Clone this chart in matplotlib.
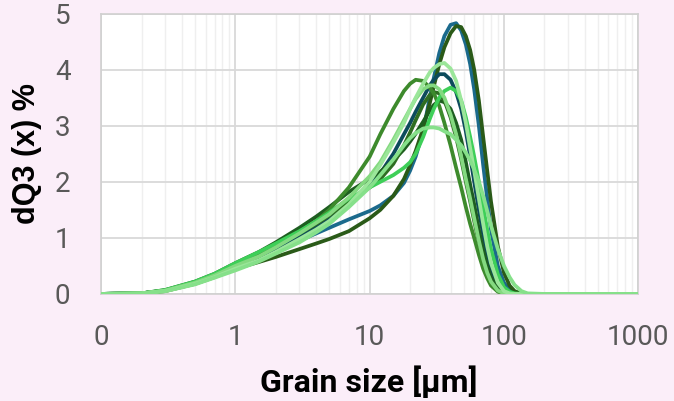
import matplotlib
matplotlib.use("Agg")
import matplotlib.pyplot as plt
from matplotlib.ticker import FixedLocator, FixedFormatter, LogLocator, NullFormatter

# grain size classes [um]
size_um = [0.1, 0.2, 0.3, 0.5, 0.7, 1, 1.5, 2, 3, 4, 5, 7, 10, 12, 15, 18, 20, 22, 25, 28,
           30, 33, 36, 40, 44, 48, 52, 56, 60, 65, 70, 75, 80, 90, 100, 110, 120, 135, 150, 200, 1000]

# dQ3(x) % per sample
teal = [0, 0.01, 0.06, 0.2, 0.32, 0.48, 0.63, 0.77, 0.95, 1.08, 1.18, 1.33, 1.48, 1.58, 1.75, 1.98, 2.2, 2.45, 2.9, 3.5,
        3.85, 4.3, 4.6, 4.8, 4.83, 4.7, 4.45, 4.1, 3.65, 3.0, 2.3, 1.7, 1.15, 0.5, 0.2, 0.07, 0.02, 0, 0, 0, 0]
olive = [0, 0.01, 0.05, 0.18, 0.3, 0.45, 0.57, 0.66, 0.8, 0.9, 0.98, 1.12, 1.35, 1.5, 1.75, 2.05, 2.3, 2.55, 2.95, 3.4,
         3.7, 4.1, 4.4, 4.65, 4.78, 4.76, 4.6, 4.35, 4.0, 3.45, 2.8, 2.2, 1.65, 0.85, 0.38, 0.15, 0.05, 0.01, 0, 0, 0]
navy = [0, 0.01, 0.06, 0.2, 0.33, 0.5, 0.65, 0.8, 1.02, 1.2, 1.35, 1.62, 1.95, 2.15, 2.5, 2.85, 3.05, 3.25, 3.5, 3.72,
        3.82, 3.92, 3.92, 3.82, 3.6, 3.3, 2.9, 2.45, 2.0, 1.5, 1.05, 0.7, 0.45, 0.15, 0.04, 0.01, 0, 0, 0, 0, 0]
dark_green = [0, 0.01, 0.07, 0.22, 0.36, 0.55, 0.75, 0.92, 1.18, 1.38, 1.55, 1.82, 2.05, 2.18, 2.38, 2.58, 2.72, 2.86, 3.07, 3.27,
              3.37, 3.45, 3.42, 3.3, 3.05, 2.75, 2.35, 1.95, 1.6, 1.15, 0.78, 0.5, 0.3, 0.1, 0.03, 0, 0, 0, 0, 0, 0]
forest = [0, 0.01, 0.06, 0.2, 0.33, 0.5, 0.68, 0.85, 1.08, 1.25, 1.4, 1.65, 1.9, 2.05, 2.32, 2.65, 2.88, 3.1, 3.38, 3.55,
          3.6, 3.58, 3.45, 3.15, 2.8, 2.4, 2.0, 1.65, 1.3, 0.92, 0.6, 0.37, 0.2, 0.06, 0.01, 0, 0, 0, 0, 0, 0]
mid_green = [0, 0.01, 0.06, 0.2, 0.33, 0.5, 0.68, 0.85, 1.1, 1.3, 1.5, 1.9, 2.45, 2.85, 3.3, 3.62, 3.75, 3.82, 3.8, 3.68,
             3.58, 3.35, 3.05, 2.65, 2.25, 1.9, 1.55, 1.25, 1.0, 0.7, 0.45, 0.28, 0.15, 0.04, 0.01, 0, 0, 0, 0, 0, 0]
bright = [0, 0.01, 0.07, 0.22, 0.36, 0.55, 0.75, 0.9, 1.12, 1.3, 1.45, 1.7, 1.9, 2.0, 2.12, 2.25, 2.35, 2.5, 2.8, 3.12,
          3.3, 3.5, 3.62, 3.68, 3.62, 3.45, 3.15, 2.8, 2.45, 2.0, 1.55, 1.15, 0.8, 0.35, 0.12, 0.04, 0.01, 0, 0, 0, 0]
pale = [0, 0.01, 0.06, 0.2, 0.33, 0.5, 0.67, 0.83, 1.08, 1.27, 1.42, 1.72, 2.1, 2.35, 2.75, 3.1, 3.3, 3.48, 3.65, 3.72,
        3.72, 3.65, 3.5, 3.2, 2.85, 2.45, 2.05, 1.7, 1.35, 0.95, 0.62, 0.38, 0.22, 0.06, 0.01, 0, 0, 0, 0, 0, 0]
light = [0, 0.01, 0.05, 0.18, 0.3, 0.45, 0.6, 0.75, 0.98, 1.15, 1.3, 1.6, 2.0, 2.3, 2.7, 3.05, 3.3, 3.5, 3.75, 3.95,
         4.03, 4.1, 4.12, 4.02, 3.8, 3.45, 3.05, 2.6, 2.2, 1.7, 1.25, 0.85, 0.55, 0.2, 0.05, 0.01, 0, 0, 0, 0, 0]
plateau = [0, 0.01, 0.05, 0.17, 0.29, 0.42, 0.58, 0.72, 0.92, 1.1, 1.25, 1.55, 1.9, 2.12, 2.4, 2.65, 2.78, 2.87, 2.95, 2.97,
           2.97, 2.95, 2.9, 2.85, 2.75, 2.65, 2.52, 2.38, 2.22, 2.0, 1.75, 1.48, 1.22, 0.8, 0.5, 0.3, 0.16, 0.05, 0.01, 0, 0]

series = [teal, olive, navy, dark_green, forest, mid_green, bright, pale, light, plateau]
colors = ["#1b6a8c", "#2a5a18", "#0d4b5c", "#1d5e20", "#2e6d22", "#3d8a2c",
          "#3ecf58", "#84d980", "#9be69a", "#86e08a"]

tick_vals = [0.1, 1, 10, 100, 1000]
tick_text = ["0", "1", "10", "100", "1000"]

bg = "#fbeef9"
fig = plt.figure(figsize=(6.74, 4.01), dpi=100, facecolor=bg)
ax = fig.add_axes([0.150, 0.267, 0.797, 0.699])
ax.set_facecolor("white")

for ys, c in zip(series, colors):
    ax.plot(size_um, ys, color=c, lw=2.7, solid_joinstyle="round", solid_capstyle="round", zorder=3)

ax.set_xscale("log")
ax.set_xlim(0.1, 1000)
ax.set_ylim(0, 5)
ax.xaxis.set_major_locator(FixedLocator(tick_vals))
ax.xaxis.set_major_formatter(FixedFormatter(tick_text))
ax.xaxis.set_minor_locator(LogLocator(base=10, subs=range(2, 10)))
ax.xaxis.set_minor_formatter(NullFormatter())
ax.set_yticks([0, 1, 2, 3, 4, 5])

ax.grid(which="major", color="#d9d9d9", lw=1.3, zorder=0)
ax.grid(which="minor", axis="x", color="#efefef", lw=1.0, zorder=0)
ax.set_axisbelow(True)
for s in ax.spines.values():
    s.set_color("#d0d0d0")
    s.set_linewidth(1.2)

ax.tick_params(which="both", length=0)
ax.tick_params(axis="x", pad=22, labelsize=20, labelcolor="#595959")
ax.tick_params(axis="y", pad=22, labelsize=20, labelcolor="#595959")
for lab in ax.get_xticklabels() + ax.get_yticklabels():
    lab.set_fontfamily("Roboto")

fig.text(0.547, 0.048, "Grain size [\u00b5m]", ha="center", va="center",
         fontsize=23, fontweight="bold", family="Roboto")
fig.text(0.040, 0.618, "dQ3 (x) %", ha="center", va="center", rotation=90,
         fontsize=22, fontweight="bold", family="Liberation Sans")

fig.savefig("out.png", dpi=100, facecolor=bg)
